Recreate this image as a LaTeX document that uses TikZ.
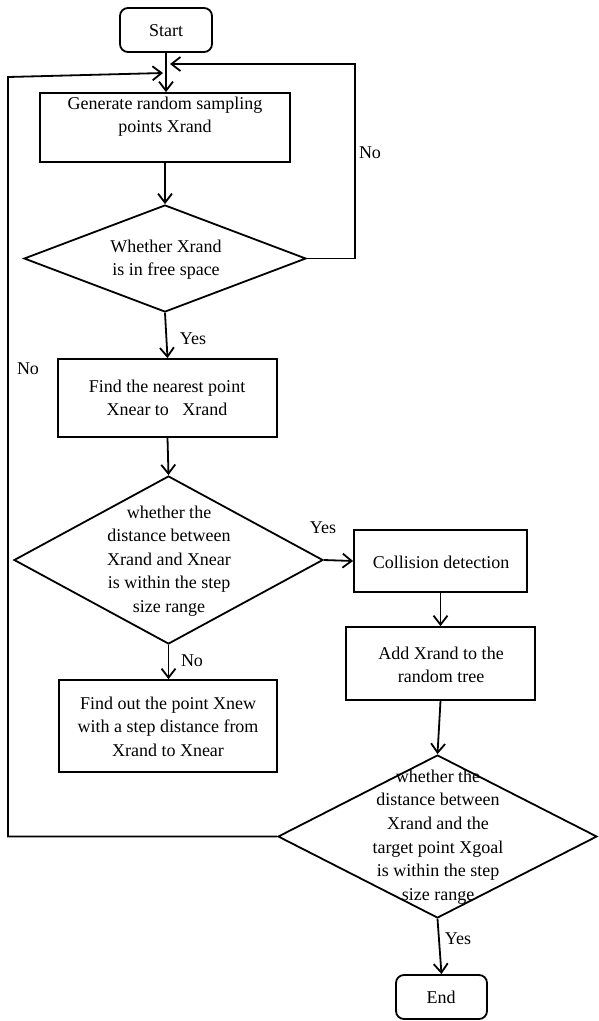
\documentclass[tikz,border=0pt]{standalone}
\usepackage{fontspec}
\setmainfont{Liberation Serif}
\usetikzlibrary{shapes.geometric,arrows.meta}
\begin{document}
\begin{tikzpicture}[x=1pt,y=-1pt,
  line width=1.8pt,
  box/.style={draw, rectangle, inner sep=0pt, minimum width=#1},
  term/.style={box=#1, rounded corners=8pt, minimum height=44pt},
  decision/.style={draw, diamond, inner sep=0pt},
  txt/.style={align=center, inner sep=0pt, font=\fontsize{18}{23.6}\selectfont},
  flow/.style={-{Straight Barb[length=9pt,width=14pt]}},
]
\useasboundingbox (0,0) rectangle (598,1021);

% process boxes
\node[term=92] (start) at (166,30) {};
\node[box=250, minimum height=69pt] (gen) at (165,127.5) {};
\node[decision, minimum width=282pt, minimum height=107pt] (d1) at (165,258.5) {};
\node[box=219, minimum height=78pt] (near) at (167.5,398) {};
\node[decision, minimum width=309pt, minimum height=168pt] (d2) at (168.5,560) {};
\node[box=173, minimum height=62pt] (coll) at (440.5,561) {};
\node[box=189, minimum height=73pt] (add) at (440.5,663.5) {};
\node[box=218, minimum height=92pt] (new) at (168,726) {};
\node[decision, minimum width=319pt, minimum height=163pt] (d3) at (437.5,836.5) {};
\node[term=91] (stop) at (441.5,997) {};

% texts
\node[txt] (tstart) at (166,31) {Start};
\node[txt] (tgen) at (165,116.5) {Generate random sampling\\points Xrand};
\node[txt] (td1) at (166,259.5) {Whether Xrand\\is in free space};
\node[txt] (tnear) at (167,398) {Find the nearest point\\Xnear to\ \ \ Xrand};
\node[txt] (td2) at (169,561) {whether the\\distance between\\Xrand and Xnear\\is within the step\\size range};
\node[txt] (tcoll) at (441,562) {Collision detection};
\node[txt] (tadd) at (441,665) {Add Xrand to the\\random tree};
\node[txt] (tnew) at (168,726.5) {Find out the point Xnew\\with a step distance from\\Xrand to Xnear};
\node[txt] (td3) at (438,837) {whether the\\distance between\\Xrand and the\\target point Xgoal\\is within the step\\size range};
\node[txt] (tstop) at (441,997) {End};

% branch labels
\node[txt] (yes1) at (193,339) {Yes};
\node[txt] (no1) at (370,153) {No};
\node[txt] (yes2) at (323,528) {Yes};
\node[txt] (no2) at (192,661) {No};
\node[txt] (yes3) at (458,939) {Yes};
\node[txt] (no3) at (28,369) {No};

% loop corner points
\coordinate (r1) at (355,258.5);
\coordinate (r2) at (355,64);
\coordinate (r3) at (170,64);
\coordinate (l1) at (8,836.5);
\coordinate (l2) at (8,77);
\coordinate (l3) at (163,73);

% connectors
\draw[flow] (start.south) -- (start.south |- gen.north);
\draw[flow] (gen.south) -- (d1.north);
\draw[flow] (d1.south) -- (near.north);
\draw[flow] (near.south) -- (d2.north);
\draw[flow] (d2.east) -- (coll.west);
\draw[flow] (coll.south) -- (add.north);
\draw[flow] (add.south) -- (d3.north);
\draw[flow] (d2.south) -- (d2.south |- new.north);
\draw[flow] (d3.south) -- (stop.north);
\draw[flow] (d1.east) -- (r1) -- (r2) -- (r3);
\draw[flow] (d3.west) -- (l1) -- (l2) -- (l3);
\end{tikzpicture}
\end{document}
